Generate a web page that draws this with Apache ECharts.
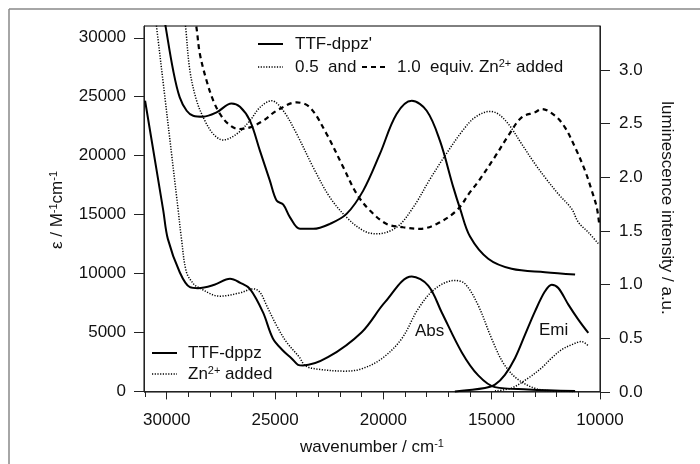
<!DOCTYPE html>
<html>
<head>
<meta charset="utf-8">
<script src="https://cdn.jsdelivr.net/npm/echarts@6/dist/echarts.min.js"></script>
<style>
  html, body { margin: 0; padding: 0; background: #fff; }
  #main { width: 700px; height: 464px; }
</style>
</head>
<body>
<div id="main"></div>
<script>
// tick labels
const xMajorTicks = [10000, 15000, 20000, 25000, 30000];
const xMinorTicks = [11000, 12000, 13000, 14000, 16000, 17000, 18000, 19000, 21000, 22000, 23000, 24000, 26000, 27000, 28000, 29000, 31000];
const epsTicks = [0, 5000, 10000, 15000, 20000, 25000, 30000];
const lumTicks = [0, 0.5, 1.0, 1.5, 2.0, 2.5, 3.0];

// TTF-dppz absorption (lower, solid)
const absDppzWn = [31000, 30160, 29950, 29400, 28930, 28560, 27800, 27080, 26600, 26160, 25560, 25100, 24640, 24235, 23940, 23710, 22560, 21000, 19925, 18690, 17930, 17310, 16385, 15620, 14850, 13325, 11150];
const absDppzEps = [24660, 15340, 12940, 10110, 8840, 8760, 9050, 9550, 9210, 8700, 6720, 4490, 3475, 2800, 2260, 2200, 2900, 5025, 7570, 9750, 8980, 6720, 3330, 1356, 365, 170, 25];

// Zn2+ added absorption (lower, dotted)
const absZnWn = [31000, 30470, 29470, 29320, 29090, 28775, 28560, 27540, 26620, 26000, 25700, 25390, 24930, 24470, 23880, 23620, 23160, 21770, 21000, 20080, 19155, 18390, 17620, 16700, 16230, 15620, 15000, 14390, 13610, 12540, 11150];
const absZnEps = [39000, 30930, 15340, 12940, 10110, 9150, 8840, 8077, 8365, 8700, 8415, 7290, 5590, 4180, 2910, 2200, 1920, 1720, 1920, 2770, 4470, 7010, 8700, 9410, 9130, 7290, 4470, 2200, 790, 85, 0];

// TTF-dppz' (upper, solid)
const upDppzWn = [30700, 30050, 29700, 29400, 29080, 28780, 28320, 27700, 27010, 26620, 26160, 25700, 25240, 24930, 24620, 24310, 23850, 23240, 22470, 21700, 20930, 20160, 19390, 18690, 18000, 17390, 16770, 16460, 16000, 15160, 14080, 12540, 11150];
const upDppzEps = [38000, 30930, 27200, 24940, 23810, 23390, 23310, 23670, 24430, 24150, 22970, 20425, 17880, 16190, 15850, 14770, 13790, 13790, 14210, 15060, 17035, 20145, 23535, 24660, 23810, 21270, 17310, 15510, 13135, 11250, 10400, 10110, 9915];

// 0.5 equiv. Zn2+ (upper, dotted)
const up05Wn = [29600, 29130, 28930, 28620, 28240, 27850, 27400, 26770, 26160, 25700, 25160, 24620, 24000, 23240, 22470, 21700, 20930, 20310, 19390, 18620, 17850, 17080, 16310, 15770, 15080, 14700, 14230, 13615, 13000, 12540, 11925, 11305, 11000, 10540, 10080];
const up05Eps = [39000, 30930, 27200, 24660, 22970, 21840, 21330, 21840, 22970, 24090, 24660, 23810, 21840, 19010, 16470, 14770, 13645, 13365, 13925, 15620, 18000, 20200, 22200, 23250, 23755, 23535, 22690, 20990, 19300, 18160, 16750, 15480, 14350, 13500, 12540];

// 1.0 equiv. Zn2+ (upper, dashed)
const up10Wn = [29000, 28620, 28470, 28160, 27850, 27540, 27160, 26700, 26160, 25545, 24930, 24000, 23390, 22620, 21850, 21230, 20620, 19850, 19085, 18310, 17540, 16620, 16000, 15620, 14850, 14230, 13615, 13000, 12690, 12080, 11620, 11150, 10690, 10380, 10150, 10045];
const up10Eps = [35500, 30765, 28620, 26350, 24660, 23535, 22690, 22260, 22400, 22970, 23810, 24520, 24090, 21840, 19010, 16755, 15340, 14210, 13925, 13790, 14210, 15340, 16900, 17800, 19900, 21700, 23250, 23675, 23960, 23390, 22400, 20700, 18725, 17035, 15620, 14320];

// emission (right axis)
const emiDppzWn = [16700, 15310, 14850, 14390, 13920, 13460, 13000, 12540, 12230, 11925, 11460, 11000, 10540];
const emiDppzLum = [0.005, 0.037, 0.068, 0.16, 0.317, 0.534, 0.751, 0.938, 1.0, 0.969, 0.814, 0.674, 0.55];
const emiZnWn = [14850, 14080, 13310, 12700, 12230, 11770, 11310, 10850, 10540];
const emiZnLum = [0.01, 0.037, 0.13, 0.224, 0.317, 0.394, 0.44, 0.47, 0.43];

const zip = (a, b) => a.map((v, i) => [v, b[i]]);
const FONT = 'Liberation Sans, Arial, Helvetica, sans-serif';
const SOLID = { color: '#000', width: 2 };
const DOTTED = { color: '#000', width: 1.5, type: [1.2, 1.5] };
const DASHED = { color: '#000', width: 2.2, type: [5, 4] };
const sup = { fontSize: 11, fontFamily: FONT, verticalAlign: 'top', fill: '#111' };

function line(name, data, style, yIdx) {
    return {
        name: name,
        type: 'line',
        xAxisIndex: 0,
        yAxisIndex: yIdx || 0,
        data: data,
        symbol: 'none',
        smooth: 0.35,
        lineStyle: style,
        silent: true
    };
}

let myChart = echarts.init(document.getElementById('main'), null, { renderer: 'canvas' });
myChart.setOption({
    animation: false,
    backgroundColor: '#fff',
    grid: {
        left: 144, right: 100, top: 26, bottom: 72,
        show: true, borderColor: '#000', borderWidth: 1
    },
    xAxis: [
        {
            type: 'value', min: 10000, max: 31050, inverse: true, position: 'bottom',
            axisLine: { show: true, lineStyle: { color: '#222', width: 1 } },
            axisTick: { show: true, inside: false, length: 8, customValues: xMajorTicks, lineStyle: { color: '#222' } },
            axisLabel: { customValues: xMajorTicks, margin: 20, fontSize: 17, fontFamily: FONT, color: '#111', formatter: v => String(v) },
            splitLine: { show: false }
        },
        {
            type: 'value', min: 10000, max: 31050, inverse: true, position: 'bottom',
            axisLine: { show: false },
            axisTick: { show: true, inside: false, length: 5, customValues: xMinorTicks, lineStyle: { color: '#222' } },
            axisLabel: { show: false },
            splitLine: { show: false }
        }
    ],
    yAxis: [
        {
            type: 'value', min: -50, max: 31000, position: 'left',
            axisLine: { show: true, lineStyle: { color: '#222', width: 1 } },
            axisTick: { show: true, inside: false, length: 10, customValues: epsTicks, lineStyle: { color: '#222' } },
            axisLabel: { customValues: epsTicks, margin: 18, fontSize: 17, fontFamily: FONT, color: '#111', formatter: v => String(v) },
            splitLine: { show: false }
        },
        {
            type: 'value', min: 0, max: 3.41, position: 'right',
            axisLine: { show: true, lineStyle: { color: '#222', width: 1 } },
            axisTick: { show: true, inside: false, length: 10, customValues: lumTicks, lineStyle: { color: '#222' } },
            axisLabel: { customValues: lumTicks, margin: 19, fontSize: 17, fontFamily: FONT, color: '#111', formatter: v => v.toFixed(1) },
            splitLine: { show: false }
        }
    ],
    series: [
        line('TTF-dppz', zip(absDppzWn, absDppzEps), SOLID),
        line('Zn2+ added', zip(absZnWn, absZnEps), DOTTED),
        line("TTF-dppz'", zip(upDppzWn, upDppzEps), SOLID),
        line('0.5 equiv.', zip(up05Wn, up05Eps), DOTTED),
        line('1.0 equiv.', zip(up10Wn, up10Eps), DASHED),
        line('Emi TTF-dppz', zip(emiDppzWn, emiDppzLum), SOLID, 1),
        line('Emi Zn2+', zip(emiZnWn, emiZnLum), DOTTED, 1)
    ],
    graphic: [
        // outer figure frame (top and left edges only)
        { type: 'line', shape: { x1: 9, y1: 9, x2: 700, y2: 9 }, style: { stroke: '#888', lineWidth: 1.5 } },
        { type: 'line', shape: { x1: 9, y1: 9, x2: 9, y2: 464 }, style: { stroke: '#888', lineWidth: 1.5 } },
        // axis titles
        {
            type: 'text', x: 372, y: 447,
            style: { text: 'wavenumber / cm{s|-1}', fontSize: 17, fontFamily: FONT, fill: '#111', align: 'center', verticalAlign: 'middle', rich: { s: sup } }
        },
        {
            type: 'text', x: 57, y: 210, rotation: Math.PI / 2,
            style: { text: 'ε / M{s|-1}cm{s|-1}', fontSize: 17, fontFamily: FONT, fill: '#111', align: 'center', verticalAlign: 'middle', rich: { s: sup } }
        },
        {
            type: 'text', x: 667, y: 208, rotation: -Math.PI / 2,
            style: { text: 'luminescence intensity / a.u.', fontSize: 17, fontFamily: FONT, fill: '#111', align: 'center', verticalAlign: 'middle' }
        },
        // upper legend
        { type: 'line', shape: { x1: 258, y1: 44, x2: 283, y2: 44 }, style: { stroke: '#000', lineWidth: 2 } },
        { type: 'text', x: 295, y: 44, style: { text: "TTF-dppz'", fontSize: 17, fontFamily: FONT, fill: '#111', verticalAlign: 'middle' } },
        { type: 'line', shape: { x1: 258, y1: 67, x2: 283, y2: 67 }, style: { stroke: '#000', lineWidth: 1.5, lineDash: [1.2, 1.5] } },
        { type: 'text', x: 295, y: 67, style: { text: '0.5  and', fontSize: 17, fontFamily: FONT, fill: '#111', verticalAlign: 'middle' } },
        { type: 'line', shape: { x1: 362, y1: 67, x2: 385, y2: 67 }, style: { stroke: '#000', lineWidth: 2, lineDash: [5, 4] } },
        {
            type: 'text', x: 397, y: 67,
            style: { text: '1.0  equiv. Zn{s|2+} added', fontSize: 17, fontFamily: FONT, fill: '#111', verticalAlign: 'middle', rich: { s: sup } }
        },
        // lower legend
        { type: 'line', shape: { x1: 152, y1: 353, x2: 177, y2: 353 }, style: { stroke: '#000', lineWidth: 2 } },
        { type: 'text', x: 188, y: 353, style: { text: 'TTF-dppz', fontSize: 17, fontFamily: FONT, fill: '#111', verticalAlign: 'middle' } },
        { type: 'line', shape: { x1: 152, y1: 374, x2: 177, y2: 374 }, style: { stroke: '#000', lineWidth: 1.5, lineDash: [1.2, 1.5] } },
        {
            type: 'text', x: 188, y: 374,
            style: { text: 'Zn{s|2+} added', fontSize: 17, fontFamily: FONT, fill: '#111', verticalAlign: 'middle', rich: { s: sup } }
        },
        // band labels
        { type: 'text', x: 415, y: 331, style: { text: 'Abs', fontSize: 17, fontFamily: FONT, fill: '#111', verticalAlign: 'middle' } },
        { type: 'text', x: 539, y: 330, style: { text: 'Emi', fontSize: 17, fontFamily: FONT, fill: '#111', verticalAlign: 'middle' } }
    ]
});
</script>
</body>
</html>
